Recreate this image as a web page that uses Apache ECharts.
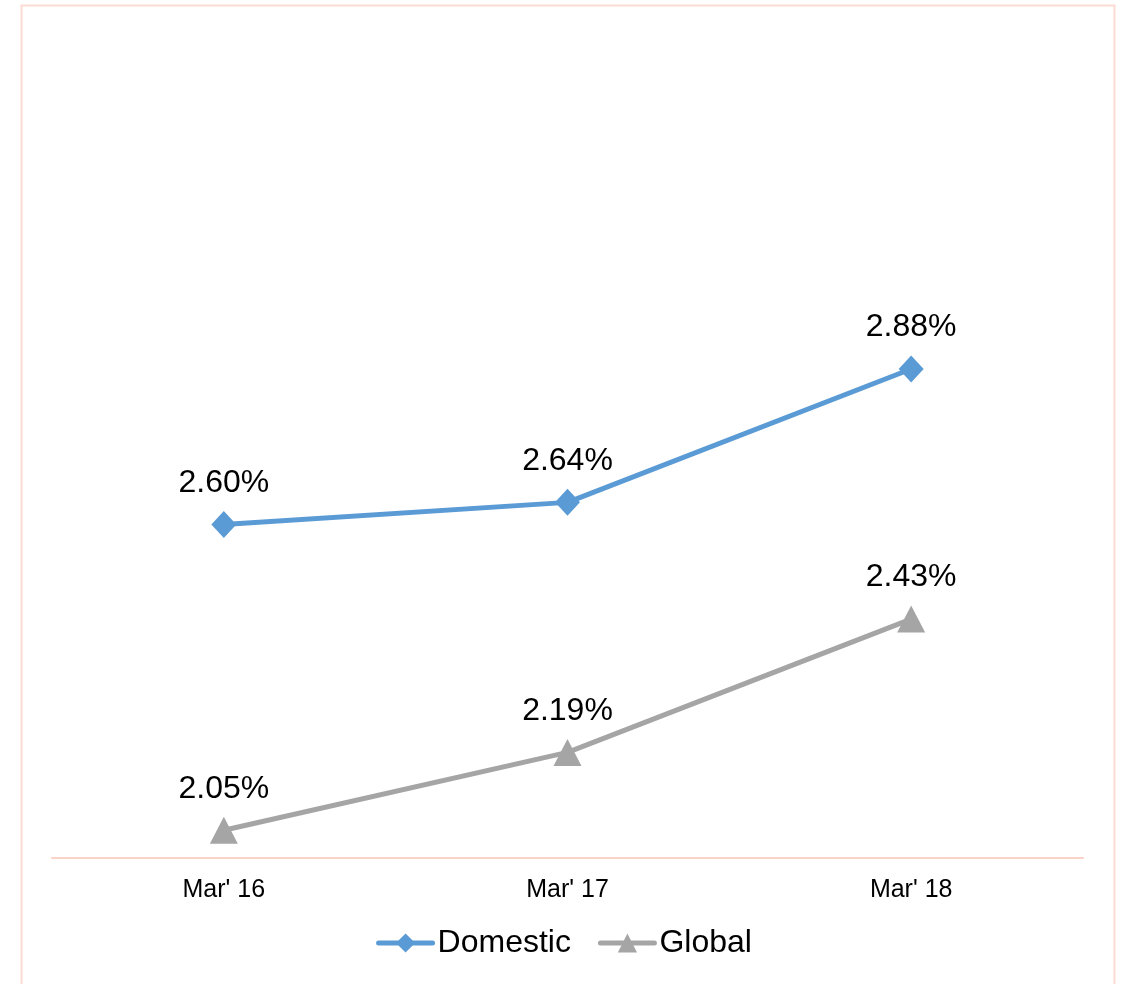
<!DOCTYPE html>
<html>
<head>
<meta charset="utf-8">
<script src="https://cdn.jsdelivr.net/npm/echarts@6/dist/echarts.min.js"></script>
<style>html,body{margin:0;padding:0;background:#fff;}#c{width:1128px;height:984px;}</style>
</head>
<body>
<div id="c"></div>
<script>
var categories = ["Mar' 16", "Mar' 17", "Mar' 18"];
var domestic = [2.60, 2.64, 2.88];
var globalVals = [2.05, 2.19, 2.43];

var chart = echarts.init(document.getElementById('c'), null, {renderer: 'canvas'});
var font = '"Liberation Sans", Arial, sans-serif';
var labelFmt = function (p) { return p.value.toFixed(2) + '%'; };
chart.setOption({
  animation: false,
  backgroundColor: '#fff',
  graphic: [{
    type: 'rect',
    shape: {x: 21.5, y: 5.5, width: 1093, height: 990},
    style: {fill: 'none', stroke: '#fcdcd1', lineWidth: 2},
    silent: true
  }],
  grid: {left: 52, right: 45, top: 24.5, bottom: 126, containLabel: false},
  legend: {
    data: ['Domestic', 'Global'],
    top: 922,
    left: 'center',
    itemWidth: 54,
    itemHeight: 24,
    itemGap: 27,
    lineStyle: {width: 5, cap: 'round'},
    textStyle: {fontFamily: font, fontSize: 32, color: '#000', padding: [0, 0, 0, 0]}
  },
  xAxis: {
    type: 'category',
    data: categories,
    boundaryGap: true,
    axisLine: {lineStyle: {color: '#f9d3c5', width: 2}},
    axisTick: {show: false},
    axisLabel: {fontFamily: font, fontSize: 25, color: '#000', margin: 20}
  },
  yAxis: {
    type: 'value',
    min: 2.0,
    max: 3.5,
    show: false,
    splitLine: {show: false}
  },
  series: [{
    name: 'Domestic',
    type: 'line',
    data: domestic,
    symbol: 'diamond',
    symbolSize: [25, 27],
    lineStyle: {color: '#5b9bd5', width: 5},
    itemStyle: {color: '#5b9bd5'},
    label: {show: true, position: 'top', distance: 12, formatter: labelFmt,
      fontFamily: font, fontSize: 32, color: '#000'}
  }, {
    name: 'Global',
    type: 'line',
    data: globalVals,
    symbol: 'triangle',
    symbolSize: [28, 27],
    lineStyle: {color: '#a5a5a5', width: 5},
    itemStyle: {color: '#a5a5a5'},
    label: {show: true, position: 'top', distance: 12, formatter: labelFmt,
      fontFamily: font, fontSize: 32, color: '#000'}
  }]
});
</script>
</body>
</html>
